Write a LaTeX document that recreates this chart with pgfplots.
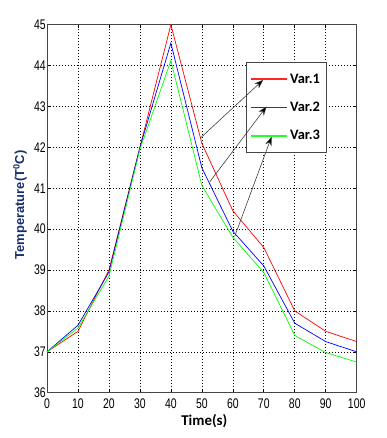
\documentclass[border=0pt]{standalone}
\usepackage{fontspec}
\usepackage{pgfplots}
\pgfplotsset{compat=1.18}
\usetikzlibrary{arrows.meta}
\newfontfamily\tickfont[FakeStretch=0.75]{Liberation Sans}
\newfontfamily\calibri{Carlito}
\newfontfamily\arialfont{Liberation Sans}
\definecolor{ylabcol}{RGB}{25,45,110}
\definecolor{axcol}{RGB}{70,70,70}
\begin{document}
\begin{tikzpicture}
\begin{axis}[
  scale only axis,
  width=309.7bp, height=368bp,
  xmin=0, xmax=100, ymin=36, ymax=45,
  xtick={0,10,...,100}, ytick={36,37,...,45},
  tick align=inside, xtick pos=both, ytick pos=both,
  major tick length=3bp,
  tick style={black, line width=0.6bp},
  axis line style={axcol, line width=0.9bp},
  grid=major,
  major grid style={black, line width=0.6bp, dash pattern=on 0.8bp off 2.2bp},
  /pgf/number format/assume math mode=true,
  ticklabel style={font=\tickfont\fontsize{14}{14}\selectfont, inner sep=0pt},
  xticklabel style={anchor=north, yshift=-5.6bp},
  yticklabel style={anchor=east, xshift=-1bp},
  xlabel={\calibri\bfseries Time(s)},
  xlabel style={font=\fontsize{15}{15}\selectfont, at={(axis description cs:0.508,-0.077)}, anchor=center},
  ylabel={\arialfont\bfseries Temperature(T\textsuperscript{0}C)},
  ylabel style={font=\fontsize{13}{13}\selectfont, color=ylabcol, at={(axis description cs:-0.087,0.51)}, anchor=center},
  legend cell align=left,
  legend image code/.code={\draw[#1, line width=1.6bp, opacity=0.85] (0bp,0bp) -- (36bp,0bp);},
  legend style={at={(0.6426,0.8995)}, anchor=north west, draw=axcol, line width=1bp,
    font=\calibri\bfseries\fontsize{14.5}{14.5}\selectfont,
    inner xsep=4bp, inner ysep=11bp, row sep=16.3bp,
    nodes={inner xsep=2bp, inner ysep=0pt, text height=10bp, text depth=2bp}},
]
\addplot[red, line width=0.7bp] coordinates {(0,37) (10,37.5) (20,39.0) (30,42.0) (40,45.0) (50,42.1) (60,40.45) (70,39.55) (80,38.0) (90,37.5) (100,37.25)};
\addlegendentry{Var.1}
\addplot[blue, line width=0.7bp] coordinates {(0,37) (10,37.65) (20,38.95) (30,42.0) (40,44.55) (50,41.5) (60,39.95) (70,39.1) (80,37.7) (90,37.25) (100,37.0)};
\addlegendentry{Var.2}
\addplot[green, line width=0.7bp] coordinates {(0,37) (10,37.58) (20,38.85) (30,41.95) (40,44.12) (50,41.07) (60,39.8) (70,38.94) (80,37.4) (90,36.98) (100,36.75)};
\addlegendentry{Var.3}
\coordinate (a1s) at (axis cs:49.4,42.22);
\coordinate (a1e) at (axis cs:69.8,43.65);
\coordinate (a2s) at (axis cs:52.6,41.16);
\coordinate (a2e) at (axis cs:70.9,43.0);
\coordinate (a3s) at (axis cs:60.6,39.82);
\coordinate (a3e) at (axis cs:72.5,42.26);
\end{axis}
\draw[black!75, line width=0.6bp, -{Stealth[length=9bp,width=6.5bp,fill=black,line width=0.3bp]}] (a1s) -- (a1e);
\draw[black!75, line width=0.6bp, -{Stealth[length=9bp,width=6.5bp,fill=black,line width=0.3bp]}] (a2s) -- (a2e);
\draw[black!75, line width=0.6bp, -{Stealth[length=9bp,width=6.5bp,fill=black,line width=0.3bp]}] (a3s) -- (a3e);
\pgfresetboundingbox
\path[use as bounding box] (-47bp,-45.3bp) rectangle (340bp,392.7bp);
\end{tikzpicture}
\end{document}
